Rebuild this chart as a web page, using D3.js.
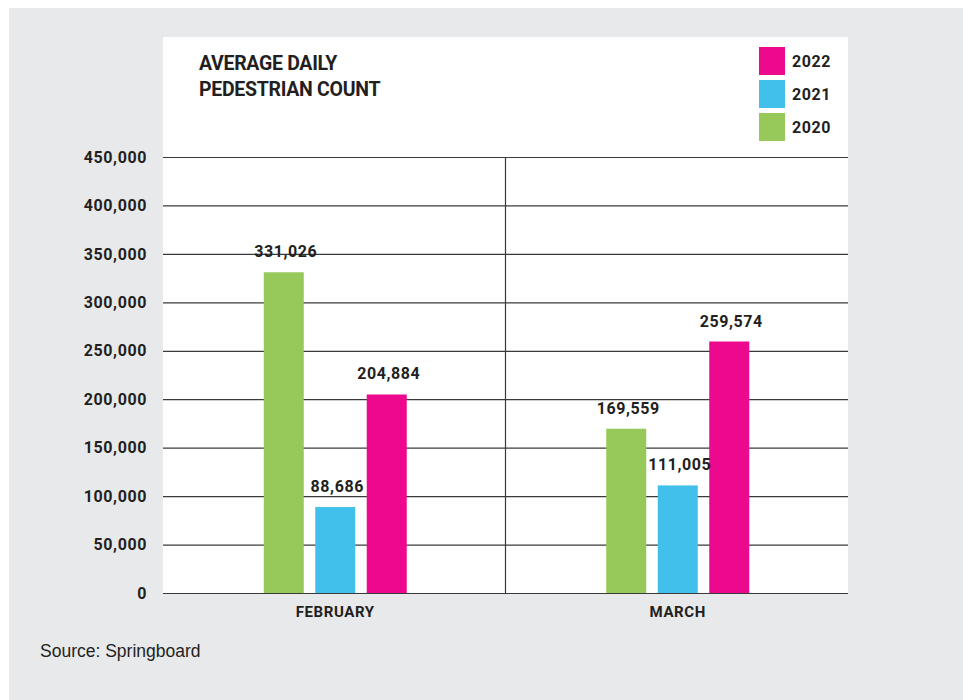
<!DOCTYPE html>
<html>
<head>
<meta charset="utf-8">
<script src="https://cdn.jsdelivr.net/npm/d3@7"></script>
<style>
  body { margin: 0; background: #fff; }
  svg { display: block; }
</style>
</head>
<body>
<div id="chart"></div>
<script>
// data
const months = ['FEBRUARY', 'MARCH']
const years = ['2020', '2021', '2022']
const values2020 = [331026, 169559]
const values2021 = [88686, 111005]
const values2022 = [204884, 259574]
const yTicks = [0, 50000, 100000, 150000, 200000, 250000, 300000, 350000, 400000, 450000]
const legendYears = ['2022', '2021', '2020']

const colors = { '2020': '#97c95a', '2021': '#41c0eb', '2022': '#ec098d' }
const seriesByYear = { '2020': values2020, '2021': values2021, '2022': values2022 }

const width = 963
const height = 700
const plot = { left: 163, right: 848, top: 157, bottom: 593 }
const boldFont = 'Roboto, "Liberation Sans", sans-serif'

const svg = d3.select('#chart')
    .append('svg')
    .attr('width', width)
    .attr('height', height)

// background panels
svg.append('rect')
    .attr('x', 9).attr('y', 8)
    .attr('width', width - 9).attr('height', height - 8)
    .attr('fill', '#e8e9eb')

svg.append('rect')
    .attr('x', plot.left).attr('y', 37)
    .attr('width', plot.right - plot.left).attr('height', plot.bottom - 37)
    .attr('fill', '#fff')

// scales
const x = d3.scaleBand()
    .domain(months)
    .range([plot.left, plot.right])

const xInner = d3.scaleBand()
    .domain(years)
    .range([0, 143])
    .paddingInner(0.223)

const y = d3.scaleLinear()
    .domain([0, 450000])
    .range([plot.bottom, plot.top])

// gridlines + y labels
const yAxis = d3.axisLeft(y)
    .tickValues(yTicks)
    .tickSize(-(plot.right - plot.left))
    .tickPadding(16)
    .tickFormat(d3.format(','))

svg.append('g')
    .attr('transform', `translate(${plot.left},0)`)
    .call(yAxis)
    .call((g) => g.select('.domain').remove())
    .call((g) => g.selectAll('line').attr('stroke', '#3a3a3a').attr('stroke-width', 1.2))
    .call((g) => g.selectAll('text')
        .attr('fill', '#231f20')
        .style('font-family', boldFont)
        .style('font-weight', 'bold')
        .style('font-size', '16px')
        .style('letter-spacing', '0.6px'))

// divider between months
svg.append('line')
    .attr('x1', x('MARCH')).attr('x2', x('MARCH'))
    .attr('y1', plot.top).attr('y2', plot.bottom)
    .attr('stroke', '#3a3a3a')
    .attr('stroke-width', 1.2)

// bars
const groups = svg.append('g')
    .selectAll('g')
    .data(months)
    .join('g')
    .attr('transform', (d) => `translate(${x(d) + x.bandwidth() / 2 - 70.5},0)`)

const barData = (m, i) => years.map((yr) => ({ year: yr, value: seriesByYear[yr][i] }))

groups.selectAll('rect')
    .data(barData)
    .join('rect')
    .attr('x', (d) => xInner(d.year))
    .attr('y', (d) => y(d.value))
    .attr('width', xInner.bandwidth())
    .attr('height', (d) => plot.bottom - y(d.value))
    .attr('fill', (d) => colors[d.year])

groups.selectAll('text')
    .data(barData)
    .join('text')
    .attr('x', (d) => xInner(d.year) + xInner.bandwidth() / 2 + 2)
    .attr('y', (d) => y(d.value) - 15)
    .attr('text-anchor', 'middle')
    .attr('fill', '#231f20')
    .style('font-family', boldFont)
    .style('font-weight', 'bold')
    .style('font-size', '16px')
    .style('letter-spacing', '0.6px')
    .text((d) => d3.format(',')(d.value))

// month labels
svg.append('g')
    .selectAll('text')
    .data(months)
    .join('text')
    .attr('x', (d) => x(d) + x.bandwidth() / 2 + 1)
    .attr('y', 617)
    .attr('text-anchor', 'middle')
    .attr('fill', '#231f20')
    .style('font-family', boldFont)
    .style('font-weight', 'bold')
    .style('font-size', '15px')
    .style('letter-spacing', '0.6px')
    .text((d) => d)

// title
const title = svg.append('text')
    .attr('x', 199)
    .attr('y', 70)
    .attr('fill', '#231f20')
    .style('font-family', boldFont)
    .style('font-weight', 'bold')
    .style('font-size', '19.5px')
    .style('letter-spacing', '-0.3px')

title.append('tspan').attr('x', 199).text('AVERAGE DAILY')
title.append('tspan').attr('x', 199).attr('dy', 26).text('PEDESTRIAN COUNT')

// legend
const legend = svg.append('g')
    .selectAll('g')
    .data(legendYears)
    .join('g')
    .attr('transform', (d, i) => `translate(759,${47 + i * 33})`)

legend.append('rect')
    .attr('width', 26)
    .attr('height', 28)
    .attr('fill', (d) => colors[d])

legend.append('text')
    .attr('x', 33)
    .attr('y', 20)
    .attr('fill', '#231f20')
    .style('font-family', boldFont)
    .style('font-weight', 'bold')
    .style('font-size', '16px')
    .style('letter-spacing', '0.6px')
    .text((d) => d)

// source
svg.append('text')
    .attr('x', 40)
    .attr('y', 657)
    .attr('fill', '#231f20')
    .style('font-family', '"Liberation Sans", Arial, sans-serif')
    .style('font-size', '17.5px')
    .text('Source: Springboard')
</script>
</body>
</html>
